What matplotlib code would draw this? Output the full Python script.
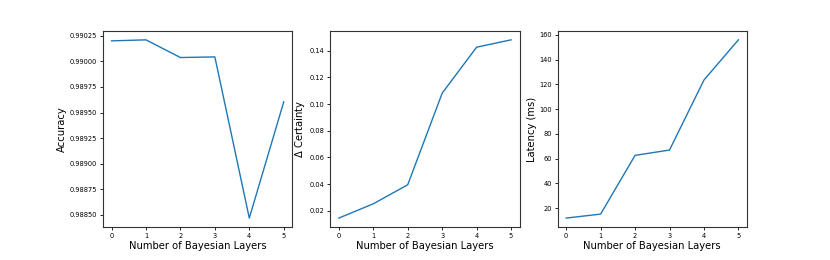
import numpy as np
import matplotlib
matplotlib.use("Agg")
import matplotlib.pyplot as plt

layers = [0, 1, 2, 3, 4, 5]
accuracy = [0.990201, 0.990211, 0.990038, 0.990044, 0.988467, 0.989604]
certainty = [0.0145, 0.0252, 0.0395, 0.1082, 0.1427, 0.1482]
latency = [11.9, 15.1, 62.6, 66.9, 123.5, 156.0]

ylabels = ["Accuracy", r"$\Delta$ Certainty", "Latency (ms)"]
series = [accuracy, certainty, latency]

fig, axes = plt.subplots(1, 3, figsize=(8.3, 2.6), dpi=100)
plt.subplots_adjust(left=0.124, right=0.9, top=0.881, bottom=0.127, wspace=0.2)

for ax, vals, lab in zip(axes, series, ylabels):
    ax.plot(layers, vals, color="#1f77b4", linewidth=1.0)
    ax.set_xlabel("Number of Bayesian Layers", fontsize=7.2, labelpad=1.5)
    ax.set_ylabel(lab, fontsize=7.2, labelpad=2)
    ax.tick_params(labelsize=4.8, length=2.5, width=0.6, pad=1.5)
    for s in ax.spines.values():
        s.set_linewidth(0.8)
        s.set_color("#333333")

yt = np.arange(0.98850, 0.99026, 0.00025)
axes[0].set_yticks(yt)
axes[0].set_yticklabels([f"{v:.5f}" for v in yt])

plt.savefig("out.png", dpi=100)
